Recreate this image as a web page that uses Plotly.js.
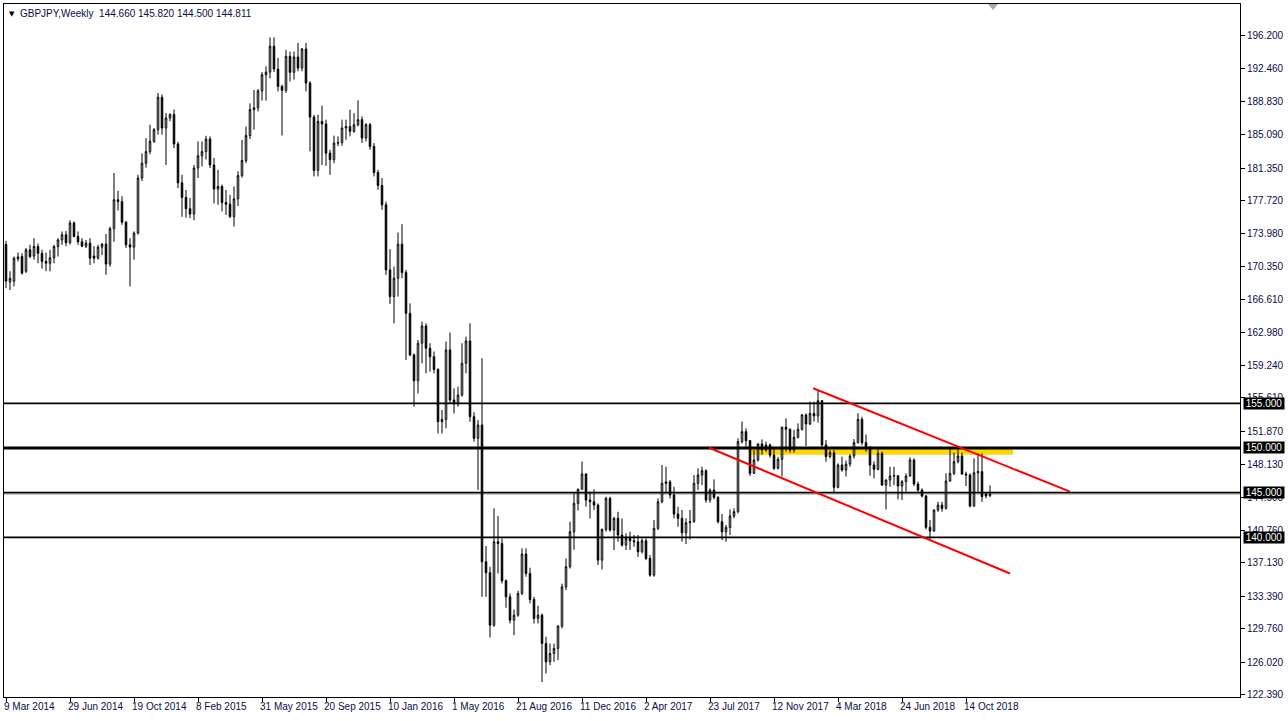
<!DOCTYPE html>
<html><head><meta charset="utf-8">
<script src="https://cdn.plot.ly/plotly-3.0.1.min.js"></script>
<style>html,body{margin:0;padding:0;background:#fff;overflow:hidden}#chart{width:1288px;height:721px}</style>
</head><body><div id="chart"></div>
<script>
const open = [172.8,168.6,168.7,171.2,171.45,169.8,172.2,171.5,172.57,171.8,170.9,170.7,171.3,172.57,173.3,173.88,173.0,175.2,173.7,173.1,172.6,172.95,171.5,171.26,172.5,172.84,170.6,174.56,177.8,177.6,175.3,172.76,172.5,174.07,180.24,181.9,183.2,184.35,185.65,189.28,185.84,186.96,187.34,184.05,179.7,178.07,176.8,176.2,181.36,182.73,183.2,184.6,181.7,179.0,179.3,177.5,177.3,175.93,177.9,180.5,182.2,185.0,187.9,188.1,190.0,191.8,192.1,195.0,192.45,190.5,190.06,193.87,192.08,193.8,192.56,194.69,190.88,187.07,181.09,186.58,186.3,183.03,182.3,184.15,184.2,185.84,186.0,185.47,186.2,186.77,184.72,186.21,183.78,180.86,179.41,177.24,169.95,166.96,169.02,172.83,169.65,165.09,160.42,157.54,161.73,163.67,161.17,160.23,158.8,152.95,153.2,160.98,155.38,154.93,155.94,159.49,161.99,153.51,151.08,152.58,137.26,136.03,130.16,139.5,139.3,135.13,133.33,130.72,131.28,133.71,138.12,135.95,133.03,130.91,131.28,128.1,126.05,126.98,127.55,130.05,134.45,136.7,140.62,143.8,145.37,147.09,144.17,143.98,143.61,137.44,140.88,144.36,140.81,142.12,140.25,139.13,139.87,139.61,139.5,138.38,139.61,137.63,135.76,141.0,143.98,146.04,146.2,144.73,142.6,142.12,140.51,141.63,141.74,146.04,146.97,147.46,144.17,145.29,144.47,141.74,140.62,141.11,142.38,142.86,150.71,151.83,150.82,147.16,148.66,150.45,149.78,150.34,149.2,147.72,148.73,152.32,152.09,149.78,151.2,152.09,153.7,152.69,153.88,153.59,155.3,150.34,149.03,149.48,145.59,148.1,147.53,148.2,149.1,150.6,153.21,150.6,149.96,148.1,147.61,149.4,145.85,146.41,146.86,146.9,145.74,146.23,146.86,148.66,145.96,145.29,144.62,141.11,140.7,143.05,143.61,143.24,146.3,147.16,148.47,149.1,147.09,146.97,143.5,147.23,147.35,144.85,144.66];
const high = [173.2,169.8,171.45,171.9,171.8,172.4,172.76,173.5,172.9,172.2,171.9,172.2,172.76,173.5,174.25,174.3,175.5,175.4,174.25,173.5,173.3,173.5,172.6,172.76,172.95,173.96,174.8,180.8,178.8,178.2,175.4,173.5,174.26,180.6,183.0,184.7,186.2,185.85,189.77,189.6,187.5,187.5,187.9,184.3,180.6,178.9,178.0,181.7,184.34,184.34,184.97,184.9,182.5,181.16,179.5,178.9,178.36,179.3,181.0,184.5,186.0,188.6,190.1,190.2,192.1,192.75,196.0,196.0,193.7,190.7,194.6,194.4,194.4,195.37,194.8,195.37,191.07,187.33,187.33,188.34,186.77,183.4,184.98,184.9,186.77,186.77,187.89,187.5,188.94,187.14,186.4,186.4,184.15,181.16,180.23,177.6,172.27,170.32,174.14,175.07,169.95,166.2,160.6,162.1,164.16,163.97,161.73,160.8,158.93,154.26,161.92,162.93,156.68,156.87,161.73,162.48,163.97,154.0,153.14,160.05,139.02,136.7,143.24,142.38,139.87,135.28,133.71,131.91,134.0,138.76,138.76,136.59,133.33,132.33,131.47,128.85,128.1,128.1,130.16,134.8,137.63,141.74,144.92,145.48,148.47,147.16,145.1,145.37,143.8,140.99,144.54,144.54,142.3,142.86,142.1,140.44,140.62,140.25,140.25,139.87,139.87,138.0,141.93,144.36,148.1,147.9,146.41,145.66,143.42,143.05,142.12,143.05,146.97,147.72,147.9,147.61,145.48,146.49,144.6,142.6,141.37,143.12,143.24,151.08,152.95,152.2,150.9,149.78,150.52,150.97,150.71,150.5,149.96,149.0,152.39,153.32,152.2,152.02,152.76,153.81,153.88,155.19,155.19,156.5,155.38,150.9,149.78,149.78,148.28,149.03,148.6,149.3,151.0,153.9,153.5,151.5,150.2,148.5,149.85,149.59,146.49,147.9,147.9,146.9,146.41,147.16,148.96,148.84,146.23,145.48,144.73,141.93,143.12,143.98,143.98,147.16,149.96,149.48,149.96,149.48,147.35,147.16,148.84,149.4,149.4,145.0,145.82];
const low = [167.9,167.7,168.1,170.9,169.4,169.6,171.26,171.1,170.7,170.1,169.8,169.8,170.7,171.45,172.76,172.6,172.8,173.6,172.76,172.5,172.4,170.5,170.7,171.1,171.6,169.4,170.3,173.1,176.6,175.0,172.4,168.1,171.1,173.9,179.9,181.4,182.9,184.16,185.1,185.1,181.7,186.6,183.6,179.1,175.9,175.8,175.75,175.5,180.23,181.54,182.3,181.35,177.4,177.24,176.5,176.1,175.75,174.8,177.1,180.3,181.9,184.6,185.65,187.7,188.9,188.9,191.4,192.1,189.95,185.0,189.76,191.07,191.26,192.2,192.2,189.95,183.22,180.42,180.42,181.7,181.6,180.6,181.9,183.8,183.86,184.53,184.9,185.3,186.02,184.15,184.34,183.41,180.42,178.92,176.68,169.39,166.14,163.97,166.96,169.02,159.86,160.3,154.63,156.12,159.49,158.37,158.55,158.37,151.64,151.64,152.2,154.93,153.88,154.63,155.75,158.37,152.95,150.7,145.3,133.33,133.33,128.78,129.97,135.95,134.83,132.1,130.35,129.04,131.1,133.52,135.58,132.59,130.35,130.35,123.8,124.74,125.68,126.05,126.24,129.8,134.08,136.5,138.6,143.0,145.37,143.42,142.1,143.05,136.9,136.4,140.62,140.62,138.57,139.5,138.94,138.57,138.57,138.94,137.82,138.2,137.44,135.58,135.58,140.81,143.8,144.92,144.36,142.12,141.18,139.5,139.24,139.76,141.63,145.29,145.85,143.87,143.87,144.25,141.55,139.69,139.5,140.25,142.12,142.68,150.5,150.15,146.86,147.09,148.47,149.22,149.59,148.9,147.53,147.6,146.79,149.59,149.48,149.48,151.08,151.94,150.22,152.58,152.95,152.84,150.15,148.47,148.84,144.92,145.48,147.35,146.8,147.9,148.8,150.5,150.3,149.6,146.9,146.6,147.5,145.74,143.12,145.66,145.85,144.25,144.17,145.1,146.79,145.74,145.1,144.47,140.88,139.76,140.62,142.86,142.86,143.1,146.23,146.97,148.28,146.97,145.74,143.35,143.42,145.1,143.98,144.36,144.5];
const close = [168.7,169.0,171.26,171.4,169.6,172.2,171.45,172.57,171.8,170.9,170.7,171.3,172.57,173.3,173.88,173.0,175.2,173.7,173.1,172.6,172.95,171.26,171.26,172.5,172.84,170.6,174.56,177.8,177.6,175.3,172.76,172.5,174.07,180.24,181.9,183.2,184.35,185.65,189.28,185.84,186.96,187.34,184.05,179.7,178.07,176.8,176.2,181.36,182.73,183.2,184.6,181.7,179.0,179.3,177.5,177.3,175.93,177.9,180.5,182.2,185.0,187.9,188.1,190.0,191.8,192.1,195.0,192.45,190.5,190.06,193.87,192.08,193.8,192.56,194.69,190.88,187.07,181.09,186.58,186.3,183.03,182.3,184.15,184.2,185.84,186.0,185.47,186.2,186.77,184.72,186.21,183.78,180.86,179.41,177.24,169.95,166.96,169.02,172.83,169.65,165.09,160.42,157.54,161.73,163.67,161.17,160.23,158.8,152.95,153.2,160.98,155.38,154.93,155.94,159.49,161.99,153.51,151.08,152.58,137.26,136.03,130.16,139.5,139.3,135.13,133.33,130.72,131.28,133.71,138.12,135.95,133.03,130.91,131.28,128.1,126.05,126.98,127.55,130.05,134.45,136.7,140.62,143.8,145.37,147.09,144.17,143.98,143.61,137.44,140.88,144.36,140.81,142.12,140.25,139.13,139.87,139.61,139.5,138.38,139.61,137.63,135.76,141.0,143.98,146.04,146.2,144.73,142.6,142.12,140.51,141.63,141.74,146.04,146.97,147.46,144.17,145.29,144.47,141.74,140.62,141.11,142.38,142.86,150.71,151.83,150.82,147.16,148.66,150.45,149.78,150.34,149.2,147.72,148.73,152.32,152.09,149.78,151.2,152.09,153.7,152.69,153.88,153.59,155.3,150.34,149.03,149.48,145.59,148.1,147.53,148.2,149.1,150.6,153.21,150.6,149.96,148.1,147.61,149.4,145.85,146.41,146.86,146.9,145.74,146.23,146.86,148.66,145.96,145.29,144.62,141.11,140.7,143.05,143.61,143.24,146.3,147.16,148.47,149.1,147.09,146.97,143.5,147.23,147.35,144.55,144.62,144.811];

const dateLabels = ["9 Mar 2014","29 Jun 2014","19 Oct 2014","8 Feb 2015","31 May 2015","20 Sep 2015","10 Jan 2016","1 May 2016","21 Aug 2016","11 Dec 2016","2 Apr 2017","23 Jul 2017","12 Nov 2017","4 Mar 2018","24 Jun 2018","14 Oct 2018"];
const labelEvery = 16;
const priceTicks = [196.2,192.46,188.83,185.09,181.35,177.72,173.98,170.35,166.61,162.98,159.24,155.61,151.87,148.13,144.5,140.76,137.13,133.39,129.76,126.02,122.39];
const levels = [155, 150, 145, 140];
const zoneBar = [186, 251.75];
const zonePrice = [149.25, 150.0];
const upperTrend = {bars: [201.8, 266], prices: [156.69, 145.11]};
const lowerTrend = {bars: [175.8, 251], prices: [150.03, 135.94]};
const symbol = "GBPJPY,Weekly";

const n = close.length;
const xs = close.map((_, i) => i);
const textColor = '#0c0c48';
const font = {family: 'Liberation Sans, Arial, sans-serif', size: 10, color: textColor};

const trace = {
  type: 'candlestick', x: xs, open: open, high: high, low: low, close: close,
  increasing: {line: {color: '#000', width: 1}, fillcolor: '#ffffff'},
  decreasing: {line: {color: '#000', width: 1}, fillcolor: '#000000'},
  whiskerwidth: 0, hoverinfo: 'skip', showlegend: false
};

const shapes = [];
shapes.push({type: 'rect', xref: 'x', yref: 'y', x0: zoneBar[0], x1: zoneBar[1], y0: zonePrice[0], y1: zonePrice[1],
  fillcolor: '#ffd700', line: {width: 0}, layer: 'below'});
shapes.push({type: 'line', xref: 'paper', yref: 'y', x0: 0, x1: 1, y0: close[n-1], y1: close[n-1],
  line: {color: '#c0c0c0', width: 1}, layer: 'below'});
levels.forEach(v => shapes.push({type: 'line', xref: 'paper', yref: 'y', x0: 0, x1: 1, y0: v, y1: v,
  line: {color: '#000', width: v === 150 ? 3 : 1.7}, layer: 'above'}));
[upperTrend, lowerTrend].forEach(t => shapes.push({type: 'line', xref: 'x', yref: 'y',
  x0: t.bars[0], x1: t.bars[1], y0: t.prices[0], y1: t.prices[1],
  line: {color: '#ff0000', width: 2}, layer: 'above'}));
// chart shift marker
const px = p => (p - 4) / 1236, py = p => 1 - (p - 4) / 693;
shapes.push({type: 'path', xref: 'paper', yref: 'paper',
  path: `M ${px(988)},${py(4)} L ${px(998)},${py(4)} L ${px(993)},${py(10)} Z`,
  fillcolor: '#a8a8a8', line: {width: 0}, layer: 'above'});

const annotations = [];
levels.forEach(v => annotations.push({xref: 'paper', yref: 'y', x: 1, y: v, xanchor: 'left', yanchor: 'middle',
  xshift: 3, text: v.toFixed(3), showarrow: false, bgcolor: '#000', borderpad: 0, width: 40, height: 11,
  font: {family: font.family, size: 10, color: '#fff'}}));
annotations.push({xref: 'paper', yref: 'paper', x: 0, y: 1, xanchor: 'left', yanchor: 'top', xshift: 3, yshift: -4,
  text: '▼', showarrow: false, font: {family: 'DejaVu Sans', size: 7, color: '#000'}});
const last = n - 1;
annotations.push({xref: 'paper', yref: 'paper', x: 0, y: 1, xanchor: 'left', yanchor: 'top', xshift: 14, yshift: -2,
  text: symbol + '&nbsp;&nbsp;' + [open[last], high[last], low[last], close[last]].map(v => v.toFixed(3)).join(' '),
  showarrow: false, font: font});

const layout = {
  width: 1288, height: 721,
  margin: {l: 4, r: 48, t: 4, b: 24, pad: 0},
  paper_bgcolor: '#fff', plot_bgcolor: '#fff',
  showlegend: false, boxgap: 0.45,
  font: font,
  xaxis: {range: [-0.5, 308.5], type: 'linear', showgrid: false, zeroline: false,
    tickvals: dateLabels.map((_, i) => i * labelEvery), ticktext: dateLabels,
    ticks: 'outside', ticklen: 4, tickcolor: '#000', tickwidth: 1, tickangle: 0,
    ticklabelposition: 'outside right', ticklabelshift: -3, tickfont: font,
    showline: true, mirror: true, linecolor: '#000', linewidth: 1,
    rangeslider: {visible: false}, fixedrange: true},
  yaxis: {range: [122.11, 199.73], side: 'right', showgrid: false, zeroline: false,
    tickvals: priceTicks, ticktext: priceTicks.map(v => v.toFixed(3)),
    ticks: 'outside', ticklen: 4, tickcolor: '#000', tickwidth: 1, tickfont: font,
    showline: true, mirror: true, linecolor: '#000', linewidth: 1, fixedrange: true},
  shapes: shapes, annotations: annotations
};

Plotly.newPlot('chart', [trace], layout, {displayModeBar: false, staticPlot: true});
</script>
</body></html>
